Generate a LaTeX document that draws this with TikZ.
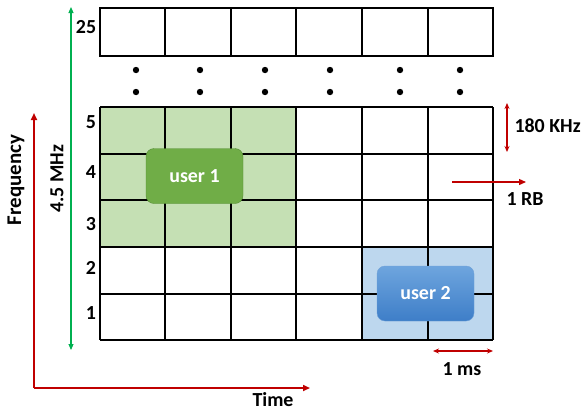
\documentclass[tikz,border=0pt]{standalone}
\usepackage{fontspec}
\setmainfont{Carlito}
\usetikzlibrary{arrows.meta, positioning, shadings}

\begin{document}
\begin{tikzpicture}[x=1bp, y=-1bp, font=\fontsize{20}{23}\selectfont\bfseries]
    \tikzstyle{cell} = [draw=black, line width=1.1bp]
    \tikzstyle{userbox} = [rectangle, rounded corners=8bp, minimum width=97bp, minimum height=55bp, text=white, text centered]
    \tikzstyle{redarrow} = [draw={rgb,255:red,192;green,0;blue,0}, line width=1.6bp, -{Triangle[length=7bp,width=6bp]}]
    \tikzstyle{dimarrow} = [draw={rgb,255:red,192;green,0;blue,0}, line width=1.1bp, {Stealth[length=6bp,width=5bp]}-{Stealth[length=6bp,width=5bp]}]
    \useasboundingbox (0,0) rectangle (584,411);

    % highlighted regions
    \fill [fill={rgb,255:red,197;green,224;blue,180}] (100,107) rectangle (296,247);
    \fill [fill={rgb,255:red,189;green,215;blue,238}] (362,247) rectangle (493,340);

    % resource grid
    \foreach \y in {107,154,200,247,294,340} \draw [cell] (100,\y) -- (493,\y);
    \foreach \x in {100,165,231,296,362,428,493} \draw [cell] (\x,107) -- (\x,340);
    \draw [cell] (100,8) rectangle (493,56);
    \foreach \x in {165,231,296,362,428} \draw [cell] (\x,8) -- (\x,56);

    % dots
    \foreach \x in {136,200,265,330,400,460} {
        \fill (\x,70) circle (3.2bp);
        \fill (\x,92) circle (3.2bp);
    }

    % row numbers
    \node (r25) at (86,27) {25};
    \node (r5) at (91,122) {5};
    \node (r4) at (91,172) {4};
    \node (r3) at (91,224) {3};
    \node (r2) at (91,268) {2};
    \node (r1) at (91,313) {1};

    % users
    \node (user1) [userbox, fill={rgb,255:red,112;green,173;blue,71}, draw={rgb,255:red,84;green,140;blue,52}] at (194.5,176) {user 1};
    \node (user2) [userbox, top color={rgb,255:red,110;green,165;blue,222}, bottom color={rgb,255:red,62;green,126;blue,200}, draw={rgb,255:red,110;green,160;blue,215}] at (425.5,293.5) {user 2};

    % axes
    \coordinate (origin) at (34,388);
    \coordinate (ftop) at (34,113);
    \coordinate (tend) at (310,388);
    \draw [redarrow] (origin) -- (ftop);
    \draw [redarrow] (origin) -- (tend);
    \node (freq) [rotate=90, font=\fontsize{21}{24}\selectfont\bfseries] at (16,180) {Frequency};
    \node (time) at (273,400) {Time};

    % bandwidth
    \coordinate (bwtop) at (71,7);
    \coordinate (bwbot) at (71,350);
    \draw [draw={rgb,255:red,0;green,176;blue,80}, line width=1.1bp, {Triangle[length=6bp,width=5bp]}-{Triangle[length=6bp,width=5bp]}] (bwtop) -- (bwbot);
    \node (bw) [rotate=90] at (57,179) {4.5 MHz};

    % dimensions
    \coordinate (khztop) at (507,103);
    \coordinate (khzbot) at (507,152);
    \draw [dimarrow] (khztop) -- (khzbot);
    \node (khz) [anchor=west] at (511,126) {180 KHz};
    \coordinate (rbstart) at (452,182);
    \coordinate (rbend) at (526,182);
    \draw [redarrow, line width=1.3bp] (rbstart) -- (rbend);
    \node (rb) at (525,199) {1 RB};
    \coordinate (msleft) at (433,351);
    \coordinate (msright) at (493,351);
    \draw [dimarrow] (msleft) -- (msright);
    \node (ms) at (462,369) {1 ms};
\end{tikzpicture}
\end{document}
